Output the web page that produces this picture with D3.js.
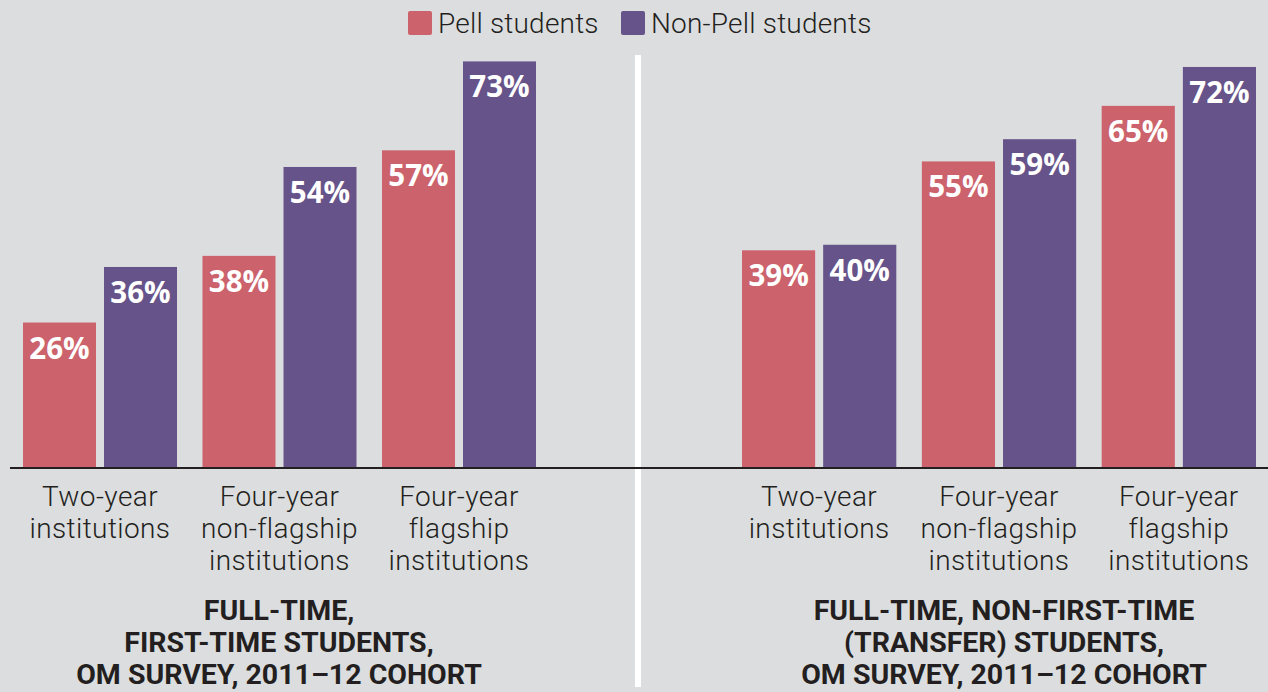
<!DOCTYPE html>
<html>
<head>
<meta charset="utf-8">
<script src="https://cdn.jsdelivr.net/npm/d3@7"></script>
<style>
  html, body { margin: 0; padding: 0; background: #dcdddf; }
  svg { display: block; }
</style>
</head>
<body>
<svg id="chart"></svg>
<script>
  // data
  const categories = [
    ["Two-year", "institutions"],
    ["Four-year", "non-flagship", "institutions"],
    ["Four-year", "flagship", "institutions"]
  ];
  const seriesNames = ["Pell students", "Non-Pell students"];
  const firstTimePell = [26, 38, 57];
  const firstTimeNonPell = [36, 54, 73];
  const transferPell = [39, 55, 65];
  const transferNonPell = [40, 59, 72];
  const panelTitles = [
    ["FULL-TIME,", "FIRST-TIME STUDENTS,", "OM SURVEY, 2011\u201312 COHORT"],
    ["FULL-TIME, NON-FIRST-TIME", "(TRANSFER) STUDENTS,", "OM SURVEY, 2011\u201312 COHORT"]
  ];

  const width = 1268, height = 692;
  const colors = { "Pell students": "#cc626c", "Non-Pell students": "#665389" };
  const textColor = "#231f20";
  const baseY = 467;

  const svg = d3.select("#chart")
    .attr("width", width)
    .attr("height", height);

  svg.append("rect")
    .attr("width", width)
    .attr("height", height)
    .attr("fill", "#dcdddf");

  const y = d3.scaleLinear()
    .domain([0, 100])
    .range([baseY, baseY - 555.6]);

  const panels = [
    { pell: firstTimePell, non: firstTimeNonPell, range: [23, 536], titleX: 279, title: panelTitles[0] },
    { pell: transferPell, non: transferNonPell, range: [742, 1256], titleX: 1004, title: panelTitles[1] }
  ];

  // divider
  svg.append("rect")
    .attr("x", 635)
    .attr("y", 55)
    .attr("width", 6)
    .attr("height", 632)
    .attr("fill", "#ffffff");

  panels.forEach(function(p) {
    const x0 = d3.scaleBand()
      .domain(d3.range(categories.length))
      .range(p.range)
      .paddingInner(0.142)
      .paddingOuter(0);

    const x1 = d3.scaleBand()
      .domain(seriesNames)
      .range([0, x0.bandwidth()])
      .paddingInner(0.099);

    const rows = categories.map(function(c, i) {
      return [
        { key: seriesNames[0], value: p.pell[i] },
        { key: seriesNames[1], value: p.non[i] }
      ];
    });

    const g = svg.append("g");

    const groups = g.selectAll(".group")
      .data(rows)
      .enter().append("g")
      .attr("transform", function(d, i) { return "translate(" + x0(i) + ",0)"; });

    groups.selectAll("rect")
      .data(function(d) { return d; })
      .enter().append("rect")
      .attr("x", function(d) { return x1(d.key); })
      .attr("y", function(d) { return y(d.value); })
      .attr("width", x1.bandwidth())
      .attr("height", function(d) { return baseY - y(d.value); })
      .attr("fill", function(d) { return colors[d.key]; });

    groups.selectAll(".val")
      .data(function(d) { return d; })
      .enter().append("text")
      .attr("class", "val")
      .attr("x", function(d) { return x1(d.key) + x1.bandwidth() / 2; })
      .attr("y", function(d) { return y(d.value) + 36; })
      .attr("text-anchor", "middle")
      .attr("fill", "#ffffff")
      .style("font-family", "'Open Sans', sans-serif")
      .style("font-weight", 700)
      .style("font-size", "29.5px")
      .text(function(d) { return d.value + "%"; });

    // category labels
    const cat = g.selectAll(".cat")
      .data(categories)
      .enter().append("text")
      .attr("class", "cat")
      .attr("x", function(d, i) { return x0(i) + x0.bandwidth() / 2; })
      .attr("y", 506)
      .attr("text-anchor", "middle")
      .attr("fill", textColor)
      .style("font-family", "Roboto, sans-serif")
      .style("font-weight", 300)
      .style("font-size", "28px")
      .style("letter-spacing", "0.4px");

    cat.selectAll("tspan")
      .data(function(d) { return d; })
      .enter().append("tspan")
      .attr("x", function() { return this.parentNode.getAttribute("x"); })
      .attr("dy", function(d, i) { return i === 0 ? 0 : 32; })
      .text(function(d) { return d; });

    // panel title
    g.append("text")
      .attr("x", p.titleX)
      .attr("y", 620)
      .attr("text-anchor", "middle")
      .attr("fill", textColor)
      .style("font-family", "Roboto, sans-serif")
      .style("font-weight", 700)
      .style("font-size", "28.5px")
      .selectAll("tspan")
      .data(p.title)
      .enter().append("tspan")
      .attr("x", p.titleX)
      .attr("dy", function(d, i) { return i === 0 ? 0 : 32; })
      .text(function(d) { return d; });
  });

  // baseline
  svg.append("line")
    .attr("x1", 10)
    .attr("x2", width)
    .attr("y1", baseY + 1)
    .attr("y2", baseY + 1)
    .attr("stroke", textColor)
    .attr("stroke-width", 2);

  // legend
  const legend = svg.append("g");
  const legendX = [408, 621];
  seriesNames.forEach(function(name, i) {
    legend.append("rect")
      .attr("x", legendX[i])
      .attr("y", 11)
      .attr("width", 24)
      .attr("height", 24)
      .attr("rx", 2)
      .attr("fill", colors[name]);
    legend.append("text")
      .attr("x", legendX[i] + 30)
      .attr("y", 33)
      .attr("fill", textColor)
      .style("font-family", "Roboto, sans-serif")
      .style("font-weight", 300)
      .style("font-size", "28px")
      .style("letter-spacing", "0.2px")
      .text(name);
  });
</script>
</body>
</html>
